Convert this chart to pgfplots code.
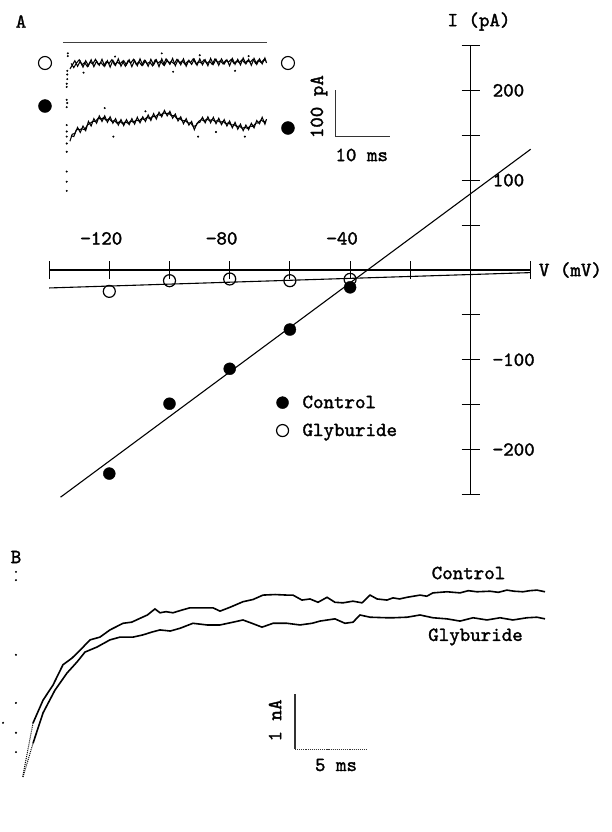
\documentclass[border=0pt]{standalone}
\usepackage{fontspec}
\usepackage{pgfplots}
\pgfplotsset{compat=1.18}
\newfontfamily\tfam{lmmono10-regular.otf}[FakeBold=1.6]
\newcommand\tf{\tfam\fontsize{20bp}{24bp}\selectfont}
\begin{document}
\begin{tikzpicture}
\useasboundingbox (0,0) rectangle (612bp,-832bp);
% ---------------- Panel A: I-V relation ----------------
\begin{axis}[
  at={(49.1bp,-494.5bp)}, anchor=south west,
  scale only axis, width=481.6bp, height=449bp,
  xmin=-140, xmax=20, ymin=-250, ymax=250,
  enlargelimits=false, clip=false,
  axis lines=middle, axis line style={-, line width=1.3bp},
  xtick={-120,-80,-40}, xticklabels={−120,−80,−40},
  minor xtick={-140,-100,-60,-20,0,20},
  ytick={-200,-100,100,200}, yticklabels={−200,−100,100,200},
  minor ytick={-250,-150,-50,50,150,250},
  tick align=center, major tick length=18bp, minor tick length=18bp,
  tick style={line width=1.1bp, black},
  tick label style={font=\tf, inner sep=0pt},
  xticklabel style={anchor=south, yshift=34bp, xshift=-8bp},
  yticklabel style={anchor=west, xshift=31bp},
  xlabel={V (mV)}, ylabel={I (pA)},
  every axis x label/.style={at={(axis cs:20,0)}, anchor=west, xshift=8bp, font=\tf, inner sep=0pt},
  every axis y label/.style={at={(axis cs:0,250)}, anchor=center, xshift=8.5bp, yshift=24bp, font=\tf, inner sep=0pt},
  legend style={at={(axis cs:-64.5,-137.5)}, anchor=north west, draw=none, fill=none,
    inner sep=0pt, column sep=12bp, row sep=10bp, font=\tf},
  legend cell align=left,
]
\addplot[only marks, mark=*, mark size=6bp, black]
  coordinates {(-120,-226.7) (-100,-148.9) (-80,-110) (-60,-66.3) (-40,-19.3)};
\addlegendentry{Control}
\addplot[only marks, mark=o, mark size=6bp, black, mark options={line width=1.2bp}]
  coordinates {(-120,-23.8) (-100,-11.9) (-80,-10) (-60,-11.9) (-40,-10.4)};
\addlegendentry{Glyburide}
\addplot[black, line width=1.1bp, forget plot] coordinates {(-136.2,-253) (20,134.5)};
\addplot[black, line width=1.1bp, forget plot] coordinates {(-140,-20) (20,-2.9)};
\end{axis}
% ---------------- Panel A inset: current traces (ms, pA) ----------------
\begin{axis}[
  at={(64bp,-198.7bp)}, anchor=south west,
  scale only axis, width=217.2bp, height=156.4bp,
  xmin=0, xmax=40, ymin=-340, ymax=0,
  hide axis, clip=false,
]
% zero line
\addplot[black!75, line width=1.2bp] coordinates {(-0.2,0) (37.4,0)};
% Glyburide trace (two interleaved sweeps of samples)
\addplot[black, line width=1.05bp] coordinates {
(1.1,-58) (1.5,-50) (2.0,-40) (2.5,-52) (3.0,-41) (3.5,-54) (4.0,-40) (4.5,-51) (5.0,-38) (5.5,-53)
(6.0,-41) (6.5,-50) (7.0,-37) (7.5,-52) (8.0,-40) (8.5,-54) (9.0,-39) (9.5,-50) (10.0,-36) (10.5,-52)
(11.0,-40) (11.5,-49) (12.0,-38) (12.5,-53) (13.0,-39) (13.5,-51) (14.0,-36) (14.5,-50) (15.0,-40) (15.5,-52)
(16.0,-37) (16.5,-49) (17.0,-38) (17.5,-53) (18.0,-36) (18.5,-50) (19.0,-39) (19.5,-48) (20.0,-35) (20.5,-51)
(21.0,-38) (21.5,-49) (22.0,-36) (22.5,-52) (23.0,-39) (23.5,-48) (24.0,-37) (24.5,-50) (25.0,-36) (25.5,-49)
(26.0,-38) (26.5,-51) (27.0,-35) (27.5,-48) (28.0,-37) (28.5,-50) (29.0,-36) (29.5,-47) (30.0,-38) (30.5,-51)
(31.0,-35) (31.5,-48) (32.0,-37) (32.5,-49) (33.0,-34) (33.5,-47) (34.0,-37) (34.5,-50) (35.0,-35) (35.5,-48)
(36.0,-36) (36.5,-47) (37.0,-34) (37.3,-45)};
\addplot[black, line width=1.05bp] coordinates {
(1.3,-46) (1.8,-55) (2.3,-45) (2.8,-38) (3.3,-49) (3.8,-44) (4.3,-53) (4.8,-43) (5.3,-47) (5.8,-37)
(6.3,-48) (6.8,-44) (7.3,-51) (7.8,-42) (8.3,-46) (8.8,-38) (9.3,-49) (9.8,-43) (10.3,-47) (10.8,-41)
(11.3,-52) (11.8,-40) (12.3,-45) (12.8,-37) (13.3,-48) (13.8,-42) (14.3,-50) (14.8,-39) (15.3,-46) (15.8,-43)
(16.3,-51) (16.8,-38) (17.3,-45) (17.8,-41) (18.3,-49) (18.8,-36) (19.3,-44) (19.8,-42) (20.3,-47) (20.8,-37)
(21.3,-45) (21.8,-40) (22.3,-48) (22.8,-41) (23.3,-44) (23.8,-36) (24.3,-47) (24.8,-42) (25.3,-45) (25.8,-38)
(26.3,-46) (26.8,-41) (27.3,-48) (27.8,-36) (28.3,-44) (28.8,-40) (29.3,-47) (29.8,-39) (30.3,-43) (30.8,-37)
(31.3,-46) (31.8,-41) (32.3,-44) (32.8,-38) (33.3,-45) (33.8,-40) (34.3,-43) (34.8,-37) (35.3,-46) (35.8,-39)
(36.3,-44) (36.8,-38) (37.2,-41)};
% Control trace (two interleaved sweeps of samples)
\addplot[black, line width=1.05bp] coordinates {
(1.1,-215) (1.5,-200) (2.0,-198) (2.5,-185) (3.0,-196) (3.5,-182) (4.0,-192) (4.5,-172) (5.0,-182) (5.5,-166)
(6.0,-176) (6.5,-160) (7.0,-172) (7.5,-160) (8.0,-174) (8.5,-162) (9.0,-176) (9.5,-166) (10.0,-180) (10.5,-168)
(11.0,-181) (11.5,-168) (12.0,-179) (12.5,-166) (13.0,-178) (13.5,-163) (14.0,-175) (14.5,-162) (15.0,-172) (15.5,-158)
(16.0,-170) (16.5,-155) (17.0,-167) (17.5,-152) (18.0,-162) (18.5,-148) (19.0,-160) (19.5,-150) (20.0,-165) (20.5,-156)
(21.0,-171) (21.5,-162) (22.0,-177) (22.5,-166) (23.0,-180) (23.5,-172) (24.0,-190) (24.5,-176) (25.0,-174) (25.5,-163)
(26.0,-175) (26.5,-162) (27.0,-175) (27.5,-163) (28.0,-177) (28.5,-165) (29.0,-179) (29.5,-168) (30.0,-182) (30.5,-171)
(31.0,-186) (31.5,-174) (32.0,-189) (32.5,-178) (33.0,-192) (33.5,-180) (34.0,-190) (34.5,-176) (35.0,-186) (35.5,-170)
(36.0,-177) (36.5,-163) (37.0,-178) (37.3,-167)};
\addplot[black, line width=1.05bp] coordinates {
(1.3,-203) (1.8,-205) (2.3,-190) (2.8,-190) (3.3,-188) (3.8,-190) (4.3,-180) (4.8,-176) (5.3,-172) (5.8,-172)
(6.3,-165) (6.8,-167) (7.3,-164) (7.8,-170) (8.3,-166) (8.8,-172) (9.3,-170) (9.8,-176) (10.3,-172) (10.8,-177)
(11.3,-173) (11.8,-176) (12.3,-171) (12.8,-174) (13.3,-169) (13.8,-171) (14.3,-166) (14.8,-168) (15.3,-163) (15.8,-166)
(16.3,-161) (16.8,-162) (17.3,-157) (17.8,-159) (18.3,-153) (18.8,-155) (19.3,-154) (19.8,-160) (20.3,-159) (20.8,-166)
(21.3,-165) (21.8,-171) (22.3,-170) (22.8,-175) (23.3,-175) (23.8,-183) (24.3,-181) (24.8,-172) (25.3,-168) (25.8,-171)
(26.3,-167) (26.8,-170) (27.3,-168) (27.8,-172) (28.3,-170) (28.8,-174) (29.3,-172) (29.8,-177) (30.3,-175) (30.8,-180)
(31.3,-179) (31.8,-183) (32.3,-182) (32.8,-187) (33.3,-185) (33.8,-187) (34.3,-182) (34.8,-183) (35.3,-176) (35.8,-175)
(36.3,-169) (36.8,-173) (37.2,-171)};
% scattered samples and capacitive transients
\addplot[only marks, mark=*, mark size=0.8bp, black] coordinates {
(3.6,-66) (20.1,-64) (31.5,-62) (18,-24) (9.4,-31) (25,-28) (34,-30)
(7.5,-143) (24.7,-205) (9.1,-205) (33.3,-205) (15,-150) (28,-195)
(0.7,-24) (0.7,-30) (0.6,-62) (0.6,-70) (0.6,-80) (0.5,-90) (0.5,-97)
(0.5,-125) (0.6,-132) (0.5,-141) (0.5,-180) (0.5,-194) (0.5,-205) (0.5,-220) (0.5,-238)
(0.5,-281) (0.5,-303) (0.5,-323)};
% state markers
\addplot[only marks, mark=o, mark size=6.5bp, black, mark options={line width=1.1bp}]
  coordinates {(-3.5,-45) (41.25,-45)};
\addplot[only marks, mark=*, mark size=6.5bp, black]
  coordinates {(-3.5,-138.5) (41.25,-186.3)};
% scale bar 10 ms / 100 pA
\addplot[black!80, line width=1.2bp] coordinates {(50,-104) (50,-204) (60,-204)};
\end{axis}
% ---------------- Panel B: current traces (ms, nA) ----------------
\begin{axis}[
  at={(22.7bp,-777bp)}, anchor=south west,
  scale only axis, width=522.3bp, height=188bp,
  xmin=0, xmax=36.45, ymin=0, ymax=3.4,
  hide axis, clip=false,
]
\addplot[black, line width=1bp, densely dotted] coordinates {(0,0.005) (0.72,0.976)};
\addplot[black, line width=1.6bp] coordinates {
(0.72,0.976) (1.42,1.39) (2.11,1.66) (2.81,2.03) (3.44,2.15) (4.14,2.33) (4.70,2.48) (5.39,2.53)
(6.09,2.66) (7.0,2.78) (7.6,2.80) (8.19,2.87) (8.7,2.93) (9.23,3.04) (9.58,2.97) (10.0,2.99) (10.49,2.97)
(11.12,3.02) (11.67,3.06) (12.37,3.06) (13.28,3.06) (13.77,3.0) (14.47,3.07) (15.37,3.17) (16.07,3.21)
(16.77,3.29) (17.61,3.30) (18.44,3.29) (18.86,3.29) (19.49,3.20) (20.05,3.22) (20.61,3.16) (21.24,3.25)
(21.79,3.16) (22.35,3.15) (23.05,3.18) (23.68,3.15) (24.24,3.29) (24.73,3.22) (25.42,3.20) (25.84,3.24)
(26.3,3.22) (26.82,3.25) (27.73,3.29) (28.2,3.27) (28.63,3.33) (29.61,3.35) (30.52,3.33) (31.1,3.37)
(31.70,3.35) (32.61,3.36) (33.2,3.34) (33.79,3.38) (34.3,3.36) (34.91,3.35) (35.4,3.37) (35.89,3.38) (36.45,3.35)};
\addplot[black, line width=1bp, densely dotted] coordinates {(0.02,0) (0.72,0.61)};
\addplot[black, line width=1.6bp] coordinates {
(0.72,0.61) (1.42,1.16) (2.25,1.57) (3.09,1.88) (3.79,2.08) (4.35,2.26) (5.18,2.35) (6.09,2.48)
(6.79,2.53) (7.70,2.53) (8.39,2.57) (9.0,2.62) (9.58,2.66) (10.3,2.64) (10.98,2.69) (11.88,2.78) (12.86,2.75)
(13.77,2.75) (14.68,2.80) (15.37,2.84) (16.0,2.78) (16.70,2.71) (17.47,2.78) (18.44,2.78) (19.35,2.75)
(20.19,2.78) (20.75,2.82) (21.79,2.86) (22.49,2.78) (23.05,2.80) (23.54,2.93) (24.24,2.89) (25.42,2.88)
(25.84,2.88) (26.82,2.89) (27.73,2.93) (28.63,2.88) (29.61,2.86) (30.52,2.82) (31.43,2.88) (32.40,2.84)
(33.31,2.88) (34.21,2.84) (35.19,2.88) (35.89,2.89) (36.45,2.86)};
% stray samples at the left edge
\addplot[only marks, mark=*, mark size=0.8bp, black] coordinates {
(-0.47,3.71) (-0.47,3.56) (-0.47,2.21) (-0.47,1.34) (-0.47,0.80) (-0.47,0.45) (-1.37,0.98)};
% scale bar 5 ms / 1 nA
\addplot[black!80, line width=1.3bp] coordinates {(19.0,1.5) (19.0,0.5)};
\addplot[black!80, line width=1.1bp, densely dotted] coordinates {(19.0,0.5) (24.0,0.5)};
\end{axis}
% ---------------- text ----------------
\node[font=\tf] at (21bp,-21.5bp) {A};
\node[font=\tf] at (16bp,-557bp) {B};
\node[font=\tf, rotate=90] at (319bp,-106.7bp) {100 pA};
\node[font=\tf] at (361.7bp,-155bp) {10 ms};
\node[font=\tf] at (468.5bp,-573bp) {Control};
\node[font=\tf] at (475.5bp,-637bp) {Glyburide};
\node[font=\tf, rotate=90] at (275bp,-720.5bp) {1 nA};
\node[font=\tf] at (336bp,-765bp) {5 ms};
\end{tikzpicture}
\end{document}
